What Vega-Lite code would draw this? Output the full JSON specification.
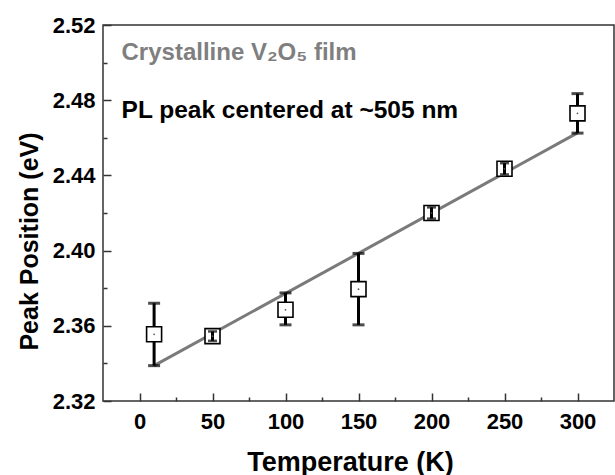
{
  "$schema": "https://vega.github.io/schema/vega-lite/v6.json",
  "width": 511,
  "height": 376,
  "autosize": {"type": "none"},
  "padding": {"left": 103, "top": 25, "right": 1, "bottom": 74},
  "config": {
    "view": {"stroke": "#333333", "strokeWidth": 1.5},
    "font": "Liberation Sans",
    "axis": {
      "domain": false,
      "grid": false,
      "labelFont": "Liberation Sans",
      "labelFontWeight": "bold",
      "labelFontSize": 22,
      "labelColor": "#000000",
      "titleFont": "Liberation Sans",
      "titleFontWeight": "bold",
      "titleFontSize": 25,
      "titleColor": "#000000",
      "tickColor": "#333333",
      "tickWidth": 1.5
    }
  },
  "resolve": {"axis": {"x": "independent", "y": "independent"}},
  "datasets": {
    "points": [
      {"T": 10, "E": 2.3555, "lo": 2.3388, "hi": 2.372},
      {"T": 50, "E": 2.3545, "lo": 2.352, "hi": 2.357},
      {"T": 100, "E": 2.3685, "lo": 2.3605, "hi": 2.3775},
      {"T": 150, "E": 2.3795, "lo": 2.3605, "hi": 2.3985},
      {"T": 200, "E": 2.42, "lo": 2.417, "hi": 2.423},
      {"T": 250, "E": 2.4435, "lo": 2.4405, "hi": 2.4465},
      {"T": 300, "E": 2.473, "lo": 2.4625, "hi": 2.4835}
    ],
    "fit": [
      {"T": 10, "E": 2.3388},
      {"T": 300, "E": 2.4626}
    ],
    "notes": [
      {"T": -12.3, "E": 2.5014, "label": "Crystalline V₂O₅ film", "kind": "title"},
      {"T": -12.3, "E": 2.4705, "label": "PL peak centered at ~505 nm", "kind": "sub"}
    ]
  },
  "encoding": {
    "x": {
      "field": "T",
      "type": "quantitative",
      "scale": {"domain": [-25, 325], "nice": false, "zero": false},
      "axis": null
    },
    "y": {
      "field": "E",
      "type": "quantitative",
      "scale": {"domain": [2.32, 2.52], "nice": false, "zero": false},
      "axis": null
    }
  },
  "layer": [
    {
      "data": {"name": "fit"},
      "mark": {"type": "line", "color": "#7a7a7a", "strokeWidth": 3},
      "encoding": {
        "x": {
          "field": "T",
          "type": "quantitative",
          "scale": {"domain": [-25, 325], "nice": false, "zero": false},
          "axis": {
            "orient": "bottom",
            "title": "Temperature (K)",
            "values": [0, 50, 100, 150, 200, 250, 300],
            "tickSize": -8,
            "labelPadding": 18,
            "titleFontSize": 27,
            "titleX": 247,
            "titleY": 61,
            "titleBaseline": "middle"
          }
        },
        "y": {
          "field": "E",
          "type": "quantitative",
          "scale": {"domain": [2.32, 2.52], "nice": false, "zero": false},
          "axis": {
            "orient": "left",
            "title": "Peak Position  (eV)",
            "values": [2.32, 2.36, 2.4, 2.44, 2.48, 2.52],
            "format": ".2f",
            "tickSize": -8,
            "labelPadding": 16,
            "titleX": -74,
            "titleY": 216,
            "titleAlign": "center",
            "titleBaseline": "middle",
            "titleAngle": -90
          }
        }
      }
    },
    {
      "data": {"name": "points"},
      "mark": {"type": "rule", "color": "#000000", "strokeWidth": 3},
      "encoding": {"y": {"field": "lo", "type": "quantitative", "axis": null}, "y2": {"field": "hi"}}
    },
    {
      "data": {"name": "points"},
      "mark": {"type": "tick", "orient": "horizontal", "color": "#000000", "size": 12, "thickness": 3},
      "encoding": {"y": {"field": "lo", "type": "quantitative", "axis": null}}
    },
    {
      "data": {"name": "points"},
      "mark": {"type": "tick", "orient": "horizontal", "color": "#000000", "size": 12, "thickness": 3},
      "encoding": {"y": {"field": "hi", "type": "quantitative", "axis": null}}
    },
    {
      "data": {"name": "points"},
      "mark": {"type": "point", "shape": "square", "size": 225, "filled": false, "fill": "#ffffff", "fillOpacity": 1, "stroke": "#000000", "strokeWidth": 1.6, "opacity": 1},
      "encoding": {}
    },
    {
      "data": {"name": "points"},
      "transform": [{"filter": "datum.hi - datum.lo < 0.01"}],
      "mark": {"type": "rule", "color": "#000000", "strokeWidth": 3},
      "encoding": {"y": {"field": "lo", "type": "quantitative", "axis": null}, "y2": {"field": "hi"}}
    },
    {
      "data": {"name": "points"},
      "transform": [{"filter": "datum.hi - datum.lo < 0.01"}],
      "mark": {"type": "tick", "orient": "horizontal", "color": "#000000", "size": 9, "thickness": 2.5},
      "encoding": {"y": {"field": "lo", "type": "quantitative", "axis": null}}
    },
    {
      "data": {"name": "points"},
      "transform": [{"filter": "datum.hi - datum.lo < 0.01"}],
      "mark": {"type": "tick", "orient": "horizontal", "color": "#000000", "size": 9, "thickness": 2.5},
      "encoding": {"y": {"field": "hi", "type": "quantitative", "axis": null}}
    },
    {
      "data": {"name": "points"},
      "mark": {"type": "point", "shape": "circle", "size": 3, "filled": true, "color": "#555555", "opacity": 1},
      "encoding": {
        "x": {
          "field": "T",
          "type": "quantitative",
          "scale": {"domain": [-25, 325], "nice": false, "zero": false},
          "axis": {"orient": "bottom", "values": [25, 75, 125, 175, 225, 275], "labels": false, "title": null, "tickSize": -4}
        },
        "y": {
          "field": "E",
          "type": "quantitative",
          "scale": {"domain": [2.32, 2.52], "nice": false, "zero": false},
          "axis": {"orient": "left", "values": [2.34, 2.38, 2.42, 2.46, 2.5], "labels": false, "title": null, "tickSize": -4}
        }
      }
    },
    {
      "data": {"name": "notes"},
      "transform": [{"filter": "datum.kind === 'title'"}],
      "mark": {"type": "text", "align": "left", "baseline": "alphabetic", "font": "Liberation Sans", "fontWeight": "bold", "fontSize": 24, "color": "#7f7f7f"},
      "encoding": {"text": {"field": "label"}}
    },
    {
      "data": {"name": "notes"},
      "transform": [{"filter": "datum.kind === 'sub'"}],
      "mark": {"type": "text", "align": "left", "baseline": "alphabetic", "font": "Liberation Sans", "fontWeight": "bold", "fontSize": 24.5, "color": "#000000"},
      "encoding": {"text": {"field": "label"}}
    }
  ]
}
